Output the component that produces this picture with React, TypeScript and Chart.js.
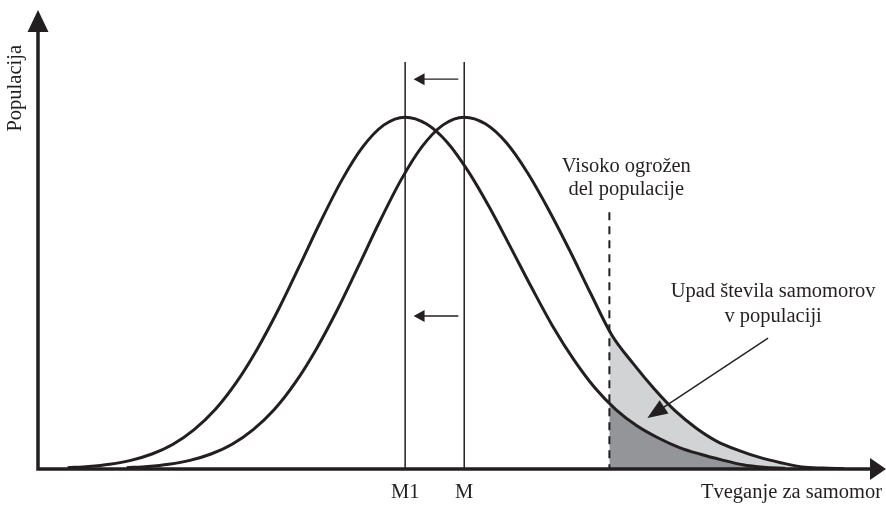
import React, { useEffect, useRef } from 'react';
import { Chart, registerables } from 'chart.js';

Chart.register(...registerables);

// ---------- data ----------
const X_AXIS_TITLE = 'Tveganje za samomor';
const Y_AXIS_TITLE = 'Populacija';
const TICK_LABELS = ['M1', 'M'];

const X_MIN = 0;
const X_MAX = 10;
const Y_MAX = 120.5;

const M1_X = 4.35; // shifted mean
const M_X = 5.05; // original mean
const RISK_X = 6.77; // high-risk threshold

// offsets from each curve's mean (risk units) and the curve heights there (% of peak)
const OFFSETS = [
  -4, -3.75, -3.5, -3.25, -3, -2.75, -2.5, -2.25, -2, -1.75, -1.5, -1.25, -1, -0.75, -0.5, -0.25,
  0, 0.25, 0.5, 0.75, 1, 1.25, 1.5, 1.75, 2, 2.25, 2.5, 2.75, 3, 3.25, 3.5, 3.75, 4, 4.25, 4.5,
];
const CURVE_M1_HEIGHTS = [
  0.37, 0.72, 1.36, 2.46, 4.26, 7.04, 11.2, 16.9, 24.6, 34.2, 45.4, 57.8, 70.4, 82.1, 91.6, 97.8,
  100, 98.1, 92.8, 84.5, 74.3, 63.0, 51.5, 40.5, 31.0, 23.0, 16.8, 12.2, 8.8, 6.1, 4.2, 2.6, 1.2, 0.5, 0.2,
];
const CURVE_M_HEIGHTS = [
  0.37, 0.72, 1.36, 2.46, 4.26, 7.04, 11.2, 16.9, 24.6, 34.2, 45.4, 57.8, 70.4, 82.1, 91.6, 97.8,
  100, 98.1, 92.7, 84.2, 73.7, 62.1, 49.8, 38.0, 30.0, 22.8, 16.5, 11.6, 7.8, 5.3, 3.3, 1.8, 0.6, 0.25, 0.1,
];
// heights of each curve where it meets the threshold line
const TAIL_START_M1 = 18.7;
const TAIL_START_M = 39.4;

// vertical guide heights
const MEAN_LINE_TOP = 115.7;
const RISK_LINE_TOP = 73.0;

// annotations (data units)
const SHIFT_ARROW_Y = [110.8, 43.5];
const SHIFT_ARROW_FROM = 4.98;
const SHIFT_ARROW_TO = 4.45;
const RISK_LABEL = ['Visoko ogrožen', 'del populacije'];
const RISK_LABEL_POS = { x: 6.97, y: [84.4, 77.9] };
const DROP_LABEL = ['Upad števila samomorov', 'v populaciji'];
const DROP_LABEL_POS = { x: 8.71, y: [48.9, 41.8] };
const DROP_ARROW = { x1: 8.65, y1: 37.2, x2: 7.22, y2: 14.5 };

// ---------- styles ----------
const INK = '#231f20';
const LIGHT_FILL = '#d1d3d4';
const DARK_FILL = '#939598';
const FONT_FAMILY = '"Liberation Serif", "Times New Roman", serif';
const FONT_SIZE = 20.5;
const AXIS_FONT = { family: FONT_FAMILY, size: FONT_SIZE, lineHeight: '24px' };

function curvePoints(mean: number, heights: number[]) {
  return OFFSETS.map((o, i) => ({ x: mean + o, y: heights[i] }));
}

function tailPoints(mean: number, heights: number[], start: number) {
  const pts = curvePoints(mean, heights).filter((p) => p.x > RISK_X);
  return [{ x: RISK_X, y: start }, ...pts];
}

function drawArrow(
  ctx: CanvasRenderingContext2D,
  x1: number,
  y1: number,
  x2: number,
  y2: number,
  len: number,
  half: number,
  lw: number
) {
  const ang = Math.atan2(y2 - y1, x2 - x1);
  const bx = x2 - len * Math.cos(ang);
  const by = y2 - len * Math.sin(ang);
  ctx.lineWidth = lw;
  ctx.beginPath();
  ctx.moveTo(x1, y1);
  ctx.lineTo(bx + Math.cos(ang) * 2, by + Math.sin(ang) * 2);
  ctx.stroke();
  ctx.beginPath();
  ctx.moveTo(x2, y2);
  ctx.lineTo(bx + half * Math.sin(ang), by - half * Math.cos(ang));
  ctx.lineTo(bx - half * Math.sin(ang), by + half * Math.cos(ang));
  ctx.closePath();
  ctx.fill();
}

const decorPlugin = {
  id: 'decor',
  afterDatasetsDraw(chart: any) {
    const { ctx, chartArea: a, scales } = chart;
    const xs = scales.x;
    const ys = scales.y;
    const px = (v: number) => xs.getPixelForValue(v);
    const py = (v: number) => ys.getPixelForValue(v);
    ctx.save();
    ctx.strokeStyle = INK;
    ctx.fillStyle = INK;

    // axes with arrowheads
    ctx.lineWidth = 3.5;
    ctx.lineJoin = 'miter';
    ctx.lineCap = 'butt';
    ctx.beginPath();
    ctx.moveTo(a.left, a.top - 16);
    ctx.lineTo(a.left, a.bottom);
    ctx.lineTo(a.right - 8, a.bottom);
    ctx.stroke();
    ctx.beginPath();
    ctx.moveTo(a.left, a.top - 35);
    ctx.lineTo(a.left + 10.5, a.top - 13);
    ctx.lineTo(a.left - 10.5, a.top - 13);
    ctx.closePath();
    ctx.fill();
    ctx.beginPath();
    ctx.moveTo(a.right + 4, a.bottom);
    ctx.lineTo(a.right - 12, a.bottom - 11);
    ctx.lineTo(a.right - 12, a.bottom + 11);
    ctx.closePath();
    ctx.fill();

    // shift arrows
    SHIFT_ARROW_Y.forEach((yv) => {
      drawArrow(ctx, px(SHIFT_ARROW_FROM), py(yv), px(SHIFT_ARROW_TO), py(yv), 11, 6, 1.4);
    });
    // pointer arrow to the shaded area
    drawArrow(ctx, px(DROP_ARROW.x1), py(DROP_ARROW.y1), px(DROP_ARROW.x2), py(DROP_ARROW.y2), 20, 8, 1.4);

    // annotation texts
    ctx.font = `${FONT_SIZE}px ${FONT_FAMILY}`;
    ctx.textAlign = 'center';
    ctx.textBaseline = 'alphabetic';
    RISK_LABEL.forEach((t, i) => ctx.fillText(t, px(RISK_LABEL_POS.x), py(RISK_LABEL_POS.y[i])));
    DROP_LABEL.forEach((t, i) => ctx.fillText(t, px(DROP_LABEL_POS.x), py(DROP_LABEL_POS.y[i])));
    ctx.restore();
  },
};

export default function App() {
  const ref = useRef<HTMLCanvasElement>(null);

  useEffect(() => {
    const lineBase = {
      pointRadius: 0,
      fill: false,
      tension: 0,
    };
    const chart = new Chart(ref.current as HTMLCanvasElement, {
      type: 'line',
      data: {
        datasets: [
          {
            ...lineBase,
            label: 'M1',
            data: curvePoints(M1_X, CURVE_M1_HEIGHTS),
            borderColor: INK,
            borderWidth: 3,
            cubicInterpolationMode: 'monotone',
            order: 0,
          },
          {
            ...lineBase,
            label: 'M',
            data: curvePoints(M_X, CURVE_M_HEIGHTS),
            borderColor: INK,
            borderWidth: 3,
            cubicInterpolationMode: 'monotone',
            order: 0,
          },
          {
            label: 'M1 line',
            data: [
              { x: M1_X, y: MEAN_LINE_TOP },
              { x: M1_X, y: 0 },
            ],
            borderColor: INK,
            borderWidth: 1.5,
            pointRadius: 0,
            fill: false,
            order: 1,
          },
          {
            label: 'M line',
            data: [
              { x: M_X, y: MEAN_LINE_TOP },
              { x: M_X, y: 0 },
            ],
            borderColor: INK,
            borderWidth: 1.5,
            pointRadius: 0,
            fill: false,
            order: 1,
          },
          {
            label: 'risk threshold',
            data: [
              { x: RISK_X, y: RISK_LINE_TOP },
              { x: RISK_X, y: 0 },
            ],
            borderColor: INK,
            borderWidth: 2,
            borderDash: [8, 6],
            pointRadius: 0,
            fill: false,
            order: 1,
          },
          {
            label: 'tail M1',
            data: tailPoints(M1_X, CURVE_M1_HEIGHTS, TAIL_START_M1),
            borderWidth: 0,
            borderColor: 'rgba(0,0,0,0)',
            backgroundColor: DARK_FILL,
            pointRadius: 0,
            fill: 'origin',
            cubicInterpolationMode: 'monotone',
            order: 2,
          },
          {
            label: 'tail M',
            data: tailPoints(M_X, CURVE_M_HEIGHTS, TAIL_START_M),
            borderWidth: 0,
            borderColor: 'rgba(0,0,0,0)',
            backgroundColor: LIGHT_FILL,
            pointRadius: 0,
            fill: 'origin',
            cubicInterpolationMode: 'monotone',
            order: 3,
          },
        ],
      },
      options: {
        responsive: false,
        animation: false,
        events: [],
        layout: { padding: { left: 0, top: 45, right: 4, bottom: 0 } },
        plugins: {
          legend: { display: false },
          tooltip: { enabled: false },
        },
        scales: {
          x: {
            type: 'linear',
            min: X_MIN,
            max: X_MAX,
            grid: { display: false, drawTicks: false },
            border: { display: false },
            afterBuildTicks: (axis: any) => {
              axis.ticks = [{ value: M1_X }, { value: M_X }];
            },
            ticks: {
              autoSkip: false,
              maxRotation: 0,
              padding: 12,
              color: INK,
              font: AXIS_FONT,
              callback: (_v: any, i: number) => TICK_LABELS[i],
            },
            title: {
              display: true,
              text: X_AXIS_TITLE,
              align: 'end',
              color: INK,
              padding: { top: -36, bottom: 0 },
              font: AXIS_FONT,
            },
          },
          y: {
            type: 'linear',
            min: 0,
            max: Y_MAX,
            grid: { display: false, drawTicks: false },
            border: { display: false },
            ticks: { display: false },
            title: {
              display: true,
              text: Y_AXIS_TITLE,
              align: 'end',
              color: INK,
              padding: { top: 4, bottom: 10 },
              font: AXIS_FONT,
            },
          },
        },
      },
      plugins: [decorPlugin],
    } as any);
    return () => chart.destroy();
  }, []);

  return (
    <div style={{ position: 'fixed', left: 0, top: 0, width: 886, height: 505, background: '#fff' }}>
      <canvas ref={ref} width={886} height={505} style={{ display: 'block' }} />
    </div>
  );
}
